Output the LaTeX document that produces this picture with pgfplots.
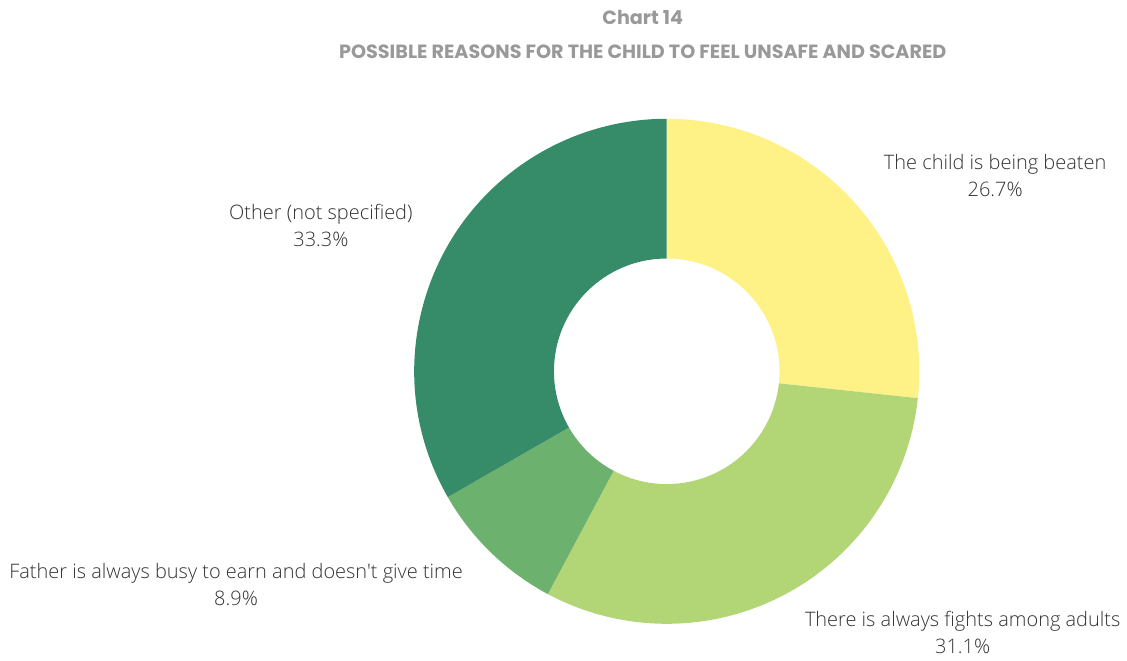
\documentclass[border=0pt]{standalone}
\usepackage{pgfplots}
\pgfplotsset{compat=1.18}
\usepackage{pgfplotstable}
\usetikzlibrary{calc}
\usepackage{fontspec}
\setmainfont{Open Sans Light}
\newfontfamily\labelfont{Open Sans Light}
\newfontfamily\titlefont{Poppins}
\definecolor{c1}{HTML}{FEF185}
\definecolor{c2}{HTML}{B2D576}
\definecolor{c3}{HTML}{6DB16F}
\definecolor{c4}{HTML}{368B69}
\definecolor{labelgray}{HTML}{333333}
\definecolor{titlegray}{HTML}{999999}

\pgfplotstableread{
value
26.7
31.1
8.9
33.3
}\slices

\begin{document}
\begin{tikzpicture}
\begin{axis}[width=563.5pt,height=328pt,scale only axis,hide axis,
  xmin=0,xmax=1127,ymin=0,ymax=656,clip=false]
\path (axis cs:0,0) (axis cs:1127,656);
\pgfplotsextra{%
  \gdef\angA{90}%
  \foreach \i/\c in {0/c1,1/c2,2/c3,3/c4}{%
    \pgfplotstablegetelem{\i}{value}\of\slices
    \pgfmathsetmacro\angB{\angA-3.6*\pgfplotsretval}%
    \fill[\c] ($(axis cs:668,284)+(\angA:126.5pt)$) arc[start angle=\angA,end angle=\angB,radius=126.5pt]
      -- ($(axis cs:668,284)+(\angB:56.5pt)$) arc[start angle=\angB,end angle=\angA,radius=56.5pt] -- cycle;
    \xdef\angA{\angB}%
  }%
}
\tikzset{lbl/.style={align=center,text=labelgray,font=\labelfont\fontsize{10}{13.5}\selectfont}}
\node[lbl] at (axis cs:997,480.5) {The child is being beaten\\26.7\%};
\node[lbl] at (axis cs:964.5,22.5) {There is always fights among adults\\31.1\%};
\node[lbl] at (axis cs:236.5,70.5) {Father is always busy to earn and doesn't give time\\8.9\%};
\node[lbl] at (axis cs:321.5,430.5) {Other (not specified)\\33.3\%};
\node[text=titlegray,font=\titlefont\bfseries\fontsize{9.6}{11}\selectfont] at (axis cs:644,638) {Chart 14};
\node[text=titlegray,font=\titlefont\bfseries\fontsize{9.6}{11}\selectfont] at (axis cs:644,604) {POSSIBLE REASONS FOR THE CHILD TO FEEL UNSAFE AND SCARED};
\end{axis}
\end{tikzpicture}
\end{document}
